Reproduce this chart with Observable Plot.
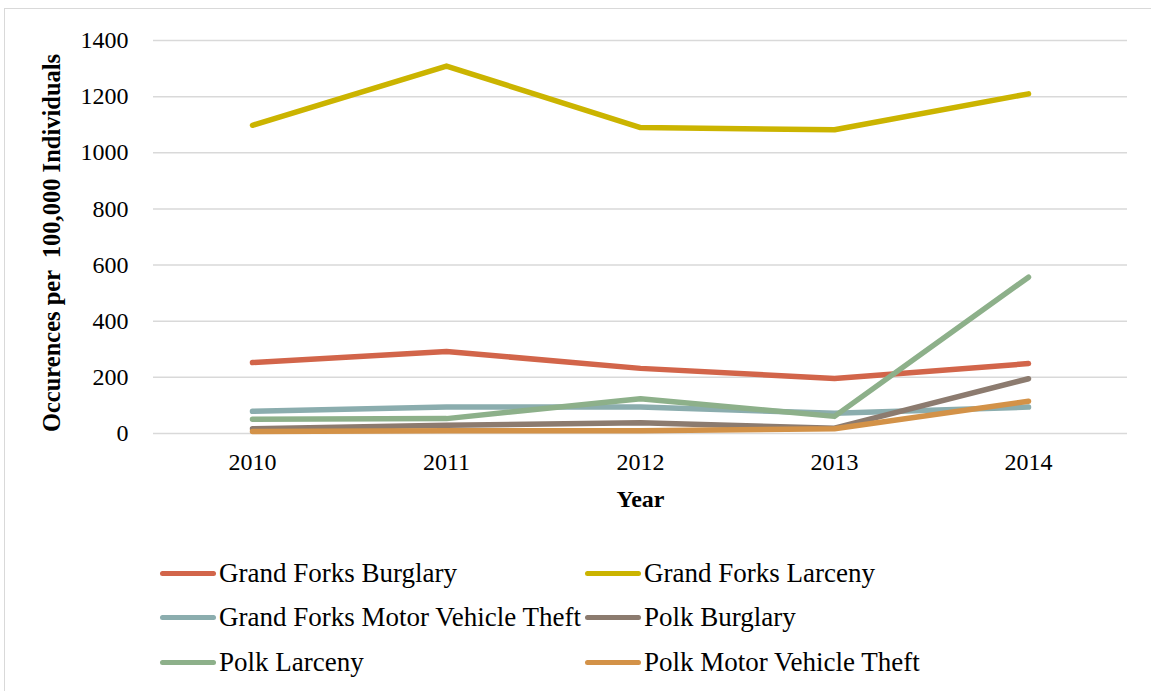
<!DOCTYPE html>
<html>
<head>
<meta charset="utf-8">
<script src="https://cdn.jsdelivr.net/npm/d3@7"></script>
<script src="https://cdn.jsdelivr.net/npm/@observablehq/plot@0.6"></script>
<style>
  html, body { margin: 0; padding: 0; background: #fff; }
  #wrap { position: relative; width: 1151px; height: 691px; overflow: hidden; background: #fff; font-family: "Liberation Serif", "Times New Roman", serif; }
  #border { position: absolute; left: 4px; top: 8px; width: 1170px; height: 720px; border: 1px solid #d9d9d9; box-sizing: border-box; }
  #chart { position: absolute; left: 0; top: 0; }
  #legend { position: absolute; left: 0; top: 0; width: 1151px; height: 691px; }
  .item { position: absolute; display: flex; align-items: center; height: 30px; font-size: 27px; color: #000; white-space: nowrap; }
  .sw { width: 56px; height: 5px; border-radius: 3px; margin-right: 3px; }
</style>
</head>
<body>
<div id="wrap">
  <div id="border"></div>
  <div id="chart"></div>
  <div id="legend"></div>
</div>
<script>
const years = ["2010", "2011", "2012", "2013", "2014"];
const seriesNames = [
  "Grand Forks Burglary",
  "Grand Forks Larceny",
  "Grand Forks Motor Vehicle Theft",
  "Polk Burglary",
  "Polk Larceny",
  "Polk Motor Vehicle Theft"
];
const gfBurglary   = [253, 292, 232, 196, 249];
const gfLarceny    = [1098, 1309, 1090, 1082, 1210];
const gfMVT        = [79, 94, 94, 72, 94];
const polkBurglary = [17, 29, 38, 19, 195];
const polkLarceny  = [51, 53, 124, 61, 557];
const polkMVT      = [7, 10, 10, 17, 115];
const yTicks = [0, 200, 400, 600, 800, 1000, 1200, 1400];
const colors = ["#d2654a", "#cbb400", "#8badae", "#8c7b6f", "#8db08a", "#d39248"];

const allValues = [gfBurglary, gfLarceny, gfMVT, polkBurglary, polkLarceny, polkMVT];
const data = [];
seriesNames.forEach((name, i) => {
  years.forEach((yr, j) => data.push({series: name, year: yr, value: allValues[i][j]}));
});

const plot = Plot.plot({
  width: 1151,
  height: 530,
  marginLeft: 153,
  marginRight: 24,
  marginTop: 40,
  marginBottom: 97,
  style: {fontFamily: "'Liberation Serif', 'Times New Roman', serif", fontSize: "24px", color: "#000", background: "transparent"},
  x: {type: "point", domain: years, padding: 0.5},
  y: {domain: [0, 1400]},
  color: {domain: seriesNames, range: colors},
  marks: [
    Plot.ruleY(yTicks, {stroke: "#d9d9d9", strokeWidth: 1.5}),
    Plot.axisY({ticks: yTicks, tickFormat: d => String(d), tickSize: 0, tickPadding: 25, label: null, fontSize: 24}),
    Plot.axisX({tickSize: 0, tickPadding: 19, label: null, fontSize: 24}),
    Plot.line(data, {x: "year", y: "value", z: "series", stroke: "series", strokeWidth: 5.5, strokeLinecap: "round", strokeLinejoin: "round"}),
    Plot.text(["Year"], {frameAnchor: "bottom", dy: 73, fontWeight: "bold", fontSize: 24}),
    Plot.text(["Occurences per  100,000 Individuals"], {frameAnchor: "left", textAnchor: "middle", dx: -101, dy: 6, rotate: -90, fontWeight: "bold", fontSize: 24.5})
  ]
});
document.getElementById("chart").appendChild(plot);

const legendPos = [
  [160, 573], [585, 573],
  [160, 617], [585, 617],
  [160, 662], [585, 662]
];
const legend = document.getElementById("legend");
seriesNames.forEach((name, i) => {
  const it = document.createElement("div");
  it.className = "item";
  it.style.left = legendPos[i][0] + "px";
  it.style.top = (legendPos[i][1] - 15) + "px";
  const sw = document.createElement("div");
  sw.className = "sw";
  sw.style.background = colors[i];
  const tx = document.createElement("span");
  tx.textContent = name;
  it.appendChild(sw);
  it.appendChild(tx);
  legend.appendChild(it);
});
</script>
</body>
</html>
